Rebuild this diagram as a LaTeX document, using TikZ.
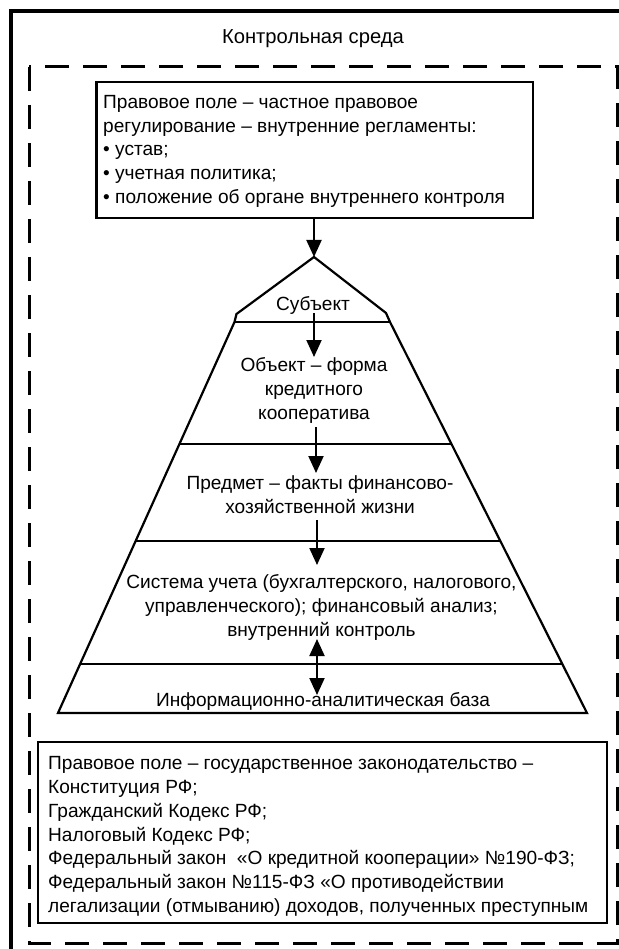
\documentclass[tikz,border=0pt]{standalone}
\usepackage{fontspec}
\setmainfont{Liberation Sans}
\usetikzlibrary{arrows.meta}
\begin{document}
\begin{tikzpicture}[x=1pt,y=-1pt,
  txt/.style={font=\fontsize{19.1}{23.8}\selectfont, inner sep=0pt},
  boxline/.style={line width=2.3pt},
  pyr/.style={line width=2.2pt, line join=miter},
  arr/.style={line width=2pt, -{Triangle[length=17pt,width=15pt]}},
  darr/.style={line width=2pt, {Triangle[length=17pt,width=15pt]}-{Triangle[length=17pt,width=15pt]}},
]
\useasboundingbox[fill=white] (0,0) rectangle (618,949);

% outer solid frame (right and bottom sides lie outside the picture)
\draw[line width=3.5pt] (630,11) -- (11,11) -- (11,960);
\node[txt, font=\fontsize{20.2}{24}\selectfont, anchor=base] (title) at (313,43.5) {Контрольная среда};

% dashed frame
\draw[line width=3pt, dash pattern=on 24pt off 14pt] (29,67) rectangle (617,943);

% top box
\draw[boxline] (96.5,82) rectangle (533,218);
\coordinate (topS) at (314,218);
\node[txt, anchor=base west, align=left] (top) at (103,203.5)
 {Правовое поле – частное правовое\\
  регулирование – внутренние регламенты:\\
  • устав;\\
  • учетная политика;\\
  • положение об органе внутреннего контроля};

% pyramid
\coordinate (apex) at (314,257);
\draw[pyr] (58,713) -- (234.5,322) -- (236.5,314) -- (apex) -- (386,313) -- (390,322) -- (587,713) -- cycle;
\draw[pyr] (234.5,322) -- (390,322);
\draw[pyr] (179.5,444) -- (451.5,444);
\draw[pyr] (135.7,541) -- (500.4,541);
\draw[pyr] (80.5,664) -- (562.3,664);

\node[txt, anchor=base] (subj) at (313,310) {Субъект};
\node[txt, anchor=base, align=center] (obj) at (314,419.5)
 {Объект – форма\\ кредитного\\ кооператива};
\node[txt, anchor=base, align=center] (pred) at (320,513.5)
 {Предмет – факты финансово-\\ хозяйственной жизни};
\node[txt, anchor=base, align=center] (sys) at (321.5,636.5)
 {Система учета (бухгалтерского, налогового,\\ управленческого); финансовый анализ;\\ внутренний контроль};
\node[txt, anchor=base] (info) at (323,706.5) {Информационно-аналитическая база};

% arrows
\coordinate (a2s) at (314,313); \coordinate (a2e) at (314,357);
\coordinate (a3s) at (316,427); \coordinate (a3e) at (316,473);
\coordinate (a4s) at (317,520); \coordinate (a4e) at (317,565);
\coordinate (a5s) at (317,639); \coordinate (a5e) at (317,695);
\draw[arr] (topS) -- (apex);
\draw[arr] (a2s) -- (a2e);
\draw[arr] (a3s) -- (a3e);
\draw[arr] (a4s) -- (a4e);
\draw[darr] (a5s) -- (a5e);

% bottom box
\draw[boxline] (38,742) rectangle (607,923);
\node[txt, anchor=base west, align=left] (law) at (48,912.5)
 {Правовое поле – государственное законодательство –\\
  Конституция РФ;\\
  Гражданский Кодекс РФ;\\
  Налоговый Кодекс РФ;\\
  Федеральный закон\ \ «О кредитной кооперации» №190-ФЗ;\\
  Федеральный закон №115-ФЗ «О противодействии\\
  легализации (отмыванию) доходов, полученных преступным};
\end{tikzpicture}
\end{document}
